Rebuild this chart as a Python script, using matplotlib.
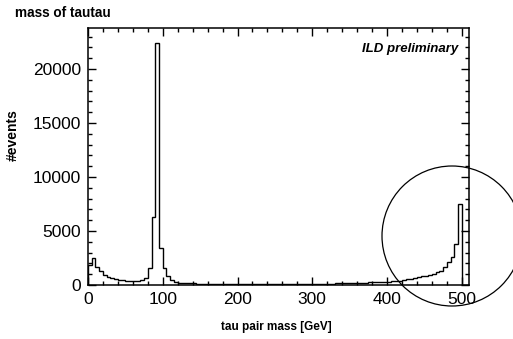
import numpy as np
import matplotlib
matplotlib.use("Agg")
import matplotlib.pyplot as plt
from matplotlib.patches import Ellipse
from matplotlib.ticker import MultipleLocator

plt.rcParams['font.family'] = ['Liberation Sans', 'DejaVu Sans']

# histogram of tau pair mass, 5 GeV bins from 0 to 510
bin_width = 5
mass_min = 0
mass_max = 510

counts_0_100 = [1850, 2500, 1700, 1250, 950, 760, 630, 540, 480, 430,
                400, 380, 380, 410, 480, 650, 1550, 6300, 22400, 3400]
counts_100_200 = [1550, 800, 460, 300, 220, 180, 160, 150, 140, 135,
                  130, 125, 120, 118, 115, 112, 110, 108, 106, 105]
counts_200_300 = [104, 103, 102, 101, 100, 100, 99, 99, 98, 98,
                  98, 99, 99, 100, 101, 102, 104, 106, 108, 110]
counts_300_400 = [113, 116, 120, 124, 128, 133, 139, 146, 154, 163,
                  173, 184, 197, 211, 226, 243, 262, 280, 290, 305]
counts_400_510 = [320, 340, 370, 410, 460, 520, 600, 650, 720, 790,
                  860, 950, 1050, 1180, 1320, 1690, 2150, 2600, 3800, 7500,
                  0, 0]

counts = np.array(counts_0_100 + counts_100_200 + counts_200_300
                  + counts_300_400 + counts_400_510)
edges = np.arange(mass_min, mass_max + bin_width, bin_width)

fig = plt.figure(figsize=(5.13, 3.39), dpi=100)
ax = fig.add_axes([0.1715, 0.1593, 0.7433, 0.7581])

ax.stairs(counts, edges, color='black', linewidth=1.0)

ax.set_xlim(mass_min, mass_max)
ax.set_ylim(0, 23800)
ax.xaxis.set_major_locator(MultipleLocator(100))
ax.xaxis.set_minor_locator(MultipleLocator(20))
ax.yaxis.set_major_locator(MultipleLocator(5000))
ax.yaxis.set_minor_locator(MultipleLocator(1000))
ax.tick_params(which='both', direction='in', top=True, right=True, width=1.0)
ax.tick_params(which='major', length=5.5, labelsize=12.5, pad=5)
ax.tick_params(which='minor', length=3)
for s in ax.spines.values():
    s.set_linewidth(1.1)

ax.text(0.97, 0.92, 'ILD preliminary', transform=ax.transAxes, ha='right',
        va='center', fontsize=9.5, fontweight='bold', fontstyle='italic')

fig.text(15 / 513, 1 - 13 / 339, 'mass of tautau', ha='left', va='center',
         fontsize=9.8, fontweight='bold')
fig.text(13 / 513, 1 - 135 / 339, '#events', rotation=90, ha='center',
         va='center', fontsize=10, fontweight='bold')
fig.text(276 / 513, 1 - 327 / 339, 'tau pair mass [GeV]', ha='center',
         va='center', fontsize=8.5, fontweight='bold')

# hand drawn circle around the high mass peak
circle = Ellipse((452 / 513, 1 - 236 / 339), 140 / 513, 140 / 339,
                 transform=fig.transFigure, fill=False, color='black',
                 linewidth=0.9, clip_on=False)
fig.add_artist(circle)

fig.savefig('out.png', dpi=100)
